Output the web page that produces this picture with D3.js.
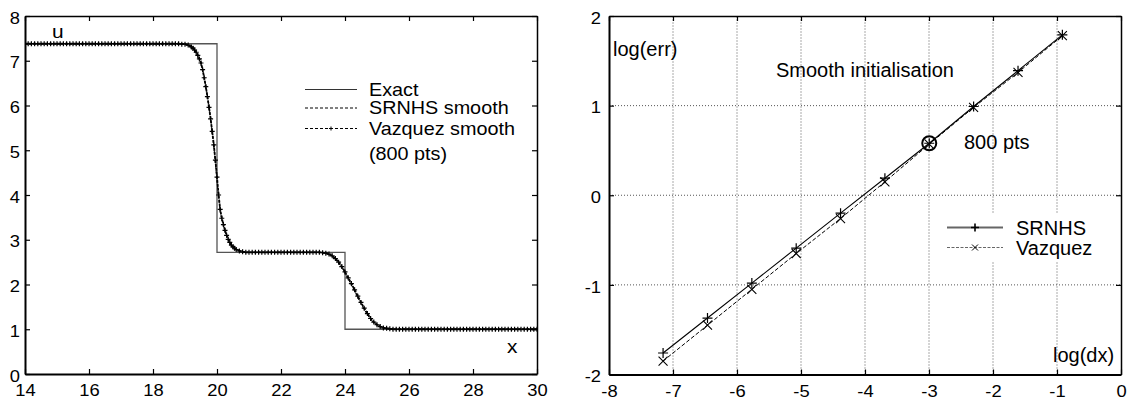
<!DOCTYPE html>
<html>
<head>
<meta charset="utf-8">
<script src="https://cdn.jsdelivr.net/npm/d3@7"></script>
<style>
  body { margin: 0; background: #fff; }
  svg { display: block; font-family: "Liberation Sans", Arial, sans-serif; }
</style>
</head>
<body>
<div id="chart"></div>
<script>
// ---- left panel: u(x) profiles ----
let exactX = [14, 20, 20, 24, 24, 30]
let exactU = [7.38, 7.38, 2.72, 2.72, 1.0, 1.0]

let srnhsX = [14, 18.8, 19.0, 19.2, 19.3, 19.4, 19.5, 19.6, 19.7, 19.8, 19.9, 20.0, 20.1, 20.2, 20.3,
  20.4, 20.5, 20.6, 20.8, 21.0, 23.2, 23.4, 23.6, 23.8, 24.0, 24.2, 24.4, 24.6, 24.8, 25.0, 25.2, 25.4, 25.6, 30]
let srnhsU = [7.38, 7.38, 7.37, 7.32, 7.26, 7.14, 6.97, 6.64, 6.22, 5.72, 5.10, 4.32, 3.62, 3.32, 3.08,
  2.92, 2.83, 2.78, 2.73, 2.72, 2.72, 2.70, 2.64, 2.49, 2.26, 1.99, 1.71, 1.44, 1.22, 1.09, 1.03, 1.01, 1.0, 1.0]

let vazquezX = [
  14.0, 14.1, 14.2, 14.3, 14.4, 14.5, 14.6, 14.7, 14.8, 14.9,
  15.0, 15.1, 15.2, 15.3, 15.4, 15.5, 15.6, 15.7, 15.8, 15.9,
  16.0, 16.1, 16.2, 16.3, 16.4, 16.5, 16.6, 16.7, 16.8, 16.9,
  17.0, 17.1, 17.2, 17.3, 17.4, 17.5, 17.6, 17.7, 17.8, 17.9,
  18.0, 18.1, 18.2, 18.3, 18.4, 18.5, 18.6, 18.7, 18.8, 18.9,
  19.0, 19.1, 19.2, 19.25, 19.3, 19.35, 19.4, 19.45, 19.5, 19.55,
  19.6, 19.65, 19.7, 19.75, 19.8, 19.85, 19.9, 19.95, 20.0, 20.05,
  20.1, 20.15, 20.2, 20.25, 20.3, 20.35, 20.4, 20.45, 20.5, 20.55,
  20.6, 20.7, 20.8, 20.9, 21.0, 21.1, 21.2, 21.3, 21.4, 21.5,
  21.6, 21.7, 21.8, 21.9, 22.0, 22.1, 22.2, 22.3, 22.4, 22.5,
  22.6, 22.7, 22.8, 22.9, 23.0, 23.1, 23.2, 23.3, 23.4, 23.5,
  23.6, 23.7, 23.8, 23.9, 24.0, 24.1, 24.2, 24.3, 24.4, 24.5,
  24.6, 24.7, 24.8, 24.9, 25.0, 25.1, 25.2, 25.3, 25.4, 25.5,
  25.6, 25.7, 25.8, 25.9, 26.0, 26.1, 26.2, 26.3, 26.4, 26.5,
  26.6, 26.7, 26.8, 26.9, 27.0, 27.1, 27.2, 27.3, 27.4, 27.5,
  27.6, 27.7, 27.8, 27.9, 28.0, 28.1, 28.2, 28.3, 28.4, 28.5,
  28.6, 28.7, 28.8, 28.9, 29.0, 29.1, 29.2, 29.3, 29.4, 29.5,
  29.6, 29.7, 29.8, 29.9, 30.0]
let vazquezU = [
  7.38, 7.38, 7.38, 7.38, 7.38, 7.38, 7.38, 7.38, 7.38, 7.38,
  7.38, 7.38, 7.38, 7.38, 7.38, 7.38, 7.38, 7.38, 7.38, 7.38,
  7.38, 7.38, 7.38, 7.38, 7.38, 7.38, 7.38, 7.38, 7.38, 7.38,
  7.38, 7.38, 7.38, 7.38, 7.38, 7.38, 7.38, 7.38, 7.38, 7.38,
  7.38, 7.38, 7.38, 7.38, 7.38, 7.38, 7.38, 7.38, 7.38, 7.37,
  7.37, 7.35, 7.31, 7.28, 7.24, 7.19, 7.12, 7.04, 6.95, 6.80,
  6.62, 6.42, 6.20, 5.96, 5.70, 5.42, 5.12, 4.78, 4.40, 4.00,
  3.68, 3.48, 3.34, 3.21, 3.10, 3.01, 2.94, 2.88, 2.84, 2.81,
  2.78, 2.75, 2.73, 2.72, 2.72, 2.72, 2.72, 2.72, 2.72, 2.72,
  2.72, 2.72, 2.72, 2.72, 2.72, 2.72, 2.72, 2.72, 2.72, 2.72,
  2.72, 2.72, 2.72, 2.72, 2.72, 2.72, 2.72, 2.71, 2.70, 2.68,
  2.64, 2.58, 2.50, 2.40, 2.28, 2.15, 2.02, 1.88, 1.74, 1.60,
  1.47, 1.35, 1.24, 1.16, 1.10, 1.06, 1.03, 1.02, 1.01, 1.00,
  1.00, 1.00, 1.00, 1.00, 1.00, 1.00, 1.00, 1.00, 1.00, 1.00,
  1.00, 1.00, 1.00, 1.00, 1.00, 1.00, 1.00, 1.00, 1.00, 1.00,
  1.00, 1.00, 1.00, 1.00, 1.00, 1.00, 1.00, 1.00, 1.00, 1.00,
  1.00, 1.00, 1.00, 1.00, 1.00, 1.00, 1.00, 1.00, 1.00, 1.00,
  1.00, 1.00, 1.00, 1.00, 1.00]

let leftXTicks = [14, 16, 18, 20, 22, 24, 26, 28, 30]
let leftYTicks = [0, 1, 2, 3, 4, 5, 6, 7, 8]
let leftLegend = ['Exact', 'SRNHS smooth', 'Vazquez smooth']

// ---- right panel: convergence ----
let logDx = [-7.155, -6.461, -5.768, -5.075, -4.382, -3.689, -2.996, -2.303, -1.609, -0.916]
let errSRNHS = [-1.76, -1.37, -0.98, -0.59, -0.20, 0.19, 0.58, 0.99, 1.39, 1.79]
let errVazquez = [-1.85, -1.45, -1.05, -0.65, -0.26, 0.15, 0.57, 0.98, 1.37, 1.78]
let markedPoint = [-2.996, 0.58]

let rightXTicks = [-8, -7, -6, -5, -4, -3, -2, -1, 0]
let rightYTicks = [-2, -1, 0, 1, 2]
let rightLegend = ['SRNHS', 'Vazquez']

let width = 1128
let height = 399

let svg = d3.select('#chart').append('svg')
  .attr('width', width)
  .attr('height', height)

svg.append('rect').attr('width', width).attr('height', height).attr('fill', '#fff')

let lx = d3.scaleLinear().domain([14, 30]).range([25, 537])
let ly = d3.scaleLinear().domain([0, 8]).range([374, 16])
let rx = d3.scaleLinear().domain([-8, 0]).range([609, 1121])
let ry = d3.scaleLinear().domain([-2, 2]).range([374.5, 16])

let plus = s => `M${-s},0H${s}M0,${-s}V${s}`
let cross = s => `M${-s},${-s}L${s},${s}M${-s},${s}L${s},${-s}`

// text with the slightly wide look of the original
let label = (g, x, y, str, size, sx, anchor) => g.append('text')
  .attr('transform', `translate(${x},${y}) scale(${sx},1)`)
  .attr('font-size', size)
  .attr('text-anchor', anchor || 'start')
  .attr('fill', '#000')
  .text(str)

let tickFmt = d => String(d)   // plain hyphen minus, like the original

let frame = (g, x, y, xt, yt, gap) => {
  let [x0, x1] = x.range(), [y0, y1] = y.range()
  let bottom = g.append('g').attr('transform', `translate(0,${y0})`)
    .call(d3.axisBottom(x).tickValues(xt).tickSize(-5).tickSizeOuter(0).tickPadding(10).tickFormat(tickFmt))
  let left = g.append('g').attr('transform', `translate(${x0},0)`)
    .call(d3.axisLeft(y).tickValues(yt).tickSize(-5).tickSizeOuter(0).tickPadding(gap).tickFormat(tickFmt))
  let top = g.append('g').attr('transform', `translate(0,${y1})`)
    .call(d3.axisTop(x).tickValues(xt).tickSize(-5).tickSizeOuter(0).tickFormat(''))
  let right = g.append('g').attr('transform', `translate(${x1},0)`)
    .call(d3.axisRight(y).tickValues(yt).tickSize(-5).tickSizeOuter(0).tickFormat(''))
  for (let a of [bottom, left, top, right]) {
    a.select('.domain').attr('stroke', '#000').attr('stroke-width', 2)
    a.selectAll('.tick line').attr('stroke', '#000').attr('stroke-width', 1.2)
    a.selectAll('text').attr('font-size', 17).attr('fill', '#000')
      .attr('font-family', '"Liberation Sans", Arial, sans-serif')
  }
  bottom.selectAll('text').attr('transform', 'scale(1.08,1)')
  left.selectAll('text').attr('transform', 'scale(1.08,1)')
    .attr('x', -gap / 1.08).attr('dy', '0.42em')
  top.select('.domain').attr('stroke-width', 1.5)
  right.select('.domain').attr('stroke-width', 1.5)
}

// ================= left panel =================
let L = svg.append('g')
svg.append('clipPath').attr('id', 'clipL').append('rect')
  .attr('x', 25).attr('y', 16).attr('width', 512).attr('height', 358)

let line = (xs, ys, sx, sy) => d3.line().x(i => sx(xs[i])).y(i => sy(ys[i]))(d3.range(xs.length))

let plotL = L.append('g').attr('clip-path', 'url(#clipL)')
plotL.append('path').attr('d', line(exactX, exactU, lx, ly))
  .attr('fill', 'none').attr('stroke', '#555').attr('stroke-width', 1.3)
plotL.append('path').attr('d', line(srnhsX, srnhsU, lx, ly))
  .attr('fill', 'none').attr('stroke', '#000').attr('stroke-width', 1).attr('stroke-dasharray', '3,2')
plotL.append('path').attr('d', line(vazquezX, vazquezU, lx, ly))
  .attr('fill', 'none').attr('stroke', '#000').attr('stroke-width', 1.8).attr('stroke-dasharray', '3,1')
plotL.selectAll('.vm').data(d3.range(vazquezX.length)).enter()
  .append('path')
  .attr('transform', i => `translate(${lx(vazquezX[i])},${ly(vazquezU[i])})`)
  .attr('d', plus(2.5))
  .attr('stroke', '#000').attr('stroke-width', 1.2)

frame(L, lx, ly, leftXTicks, leftYTicks, 5)

label(L, 52, 38, 'u', 19, 1.1)
label(L, 507, 353, 'x', 19, 1.1)

// left legend
let legY = [89.5, 108, 128.5]
let legL = L.append('g')
legL.append('line').attr('x1', 305).attr('x2', 357).attr('y1', legY[0]).attr('y2', legY[0])
  .attr('stroke', '#333').attr('stroke-width', 1.2)
legL.append('line').attr('x1', 305).attr('x2', 357).attr('y1', legY[1]).attr('y2', legY[1])
  .attr('stroke', '#000').attr('stroke-width', 1).attr('stroke-dasharray', '3,2')
legL.append('line').attr('x1', 305).attr('x2', 357).attr('y1', legY[2]).attr('y2', legY[2])
  .attr('stroke', '#000').attr('stroke-width', 1).attr('stroke-dasharray', '3,2')
legL.append('path').attr('transform', `translate(331,${legY[2]})`).attr('d', plus(2))
  .attr('stroke', '#000').attr('stroke-width', 1)
leftLegend.forEach((t, i) => label(legL, 369, legY[i] + 6, t, 18, 1.1))
label(legL, 369, 160, '(800 pts)', 18, 1.1)

// ================= right panel =================
let R = svg.append('g')

// dotted grid
R.append('g').selectAll('line').data(rightXTicks.slice(1, -1)).enter().append('line')
  .attr('x1', d => rx(d)).attr('x2', d => rx(d)).attr('y1', ry(-2)).attr('y2', ry(2))
  .attr('stroke', '#555').attr('stroke-width', 1).attr('stroke-dasharray', '1,2')
R.append('g').selectAll('line').data(rightYTicks.slice(1, -1)).enter().append('line')
  .attr('y1', d => ry(d)).attr('y2', d => ry(d)).attr('x1', rx(-8)).attr('x2', rx(0))
  .attr('stroke', '#555').attr('stroke-width', 1).attr('stroke-dasharray', '1,2')

R.append('path').attr('d', line(logDx, errSRNHS, rx, ry))
  .attr('fill', 'none').attr('stroke', '#000').attr('stroke-width', 1.1)
R.append('path').attr('d', line(logDx, errVazquez, rx, ry))
  .attr('fill', 'none').attr('stroke', '#000').attr('stroke-width', 1).attr('stroke-dasharray', '4,2')

R.selectAll('.sm').data(d3.range(logDx.length)).enter().append('path')
  .attr('transform', i => `translate(${rx(logDx[i])},${ry(errSRNHS[i])})`)
  .attr('d', plus(5)).attr('stroke', '#000').attr('stroke-width', 1.2)
R.selectAll('.xm').data(d3.range(logDx.length)).enter().append('path')
  .attr('transform', i => `translate(${rx(logDx[i])},${ry(errVazquez[i])})`)
  .attr('d', cross(4.5)).attr('stroke', '#000').attr('stroke-width', 1.1)

R.append('circle').attr('cx', rx(markedPoint[0])).attr('cy', ry(markedPoint[1])).attr('r', 7)
  .attr('fill', 'none').attr('stroke', '#000').attr('stroke-width', 2)

frame(R, rx, ry, rightXTicks, rightYTicks, 8)

label(R, 613, 56, 'log(err)', 20, 1)
label(R, 776, 77, 'Smooth initialisation', 20, 1)
label(R, 964, 149, '800 pts', 20, 1)
label(R, 1053, 362, 'log(dx)', 20, 1)

// right legend
let legR = R.append('g')
let rLegY = [227.5, 247.5]
legR.append('rect').attr('x', 944).attr('y', 214).attr('width', 150).attr('height', 48).attr('fill', '#fff')
legR.append('line').attr('x1', 947).attr('x2', 1003).attr('y1', rLegY[0]).attr('y2', rLegY[0])
  .attr('stroke', '#666').attr('stroke-width', 2)
legR.append('path').attr('transform', `translate(975,${rLegY[0]})`).attr('d', plus(4))
  .attr('stroke', '#000').attr('stroke-width', 1.6)
legR.append('line').attr('x1', 947).attr('x2', 1003).attr('y1', rLegY[1]).attr('y2', rLegY[1])
  .attr('stroke', '#666').attr('stroke-width', 1).attr('stroke-dasharray', '3,1.5')
legR.append('path').attr('transform', `translate(975,${rLegY[1]})`).attr('d', cross(3))
  .attr('stroke', '#000').attr('stroke-width', 1)
rightLegend.forEach((t, i) => label(legR, 1016, rLegY[i] + 7.5, t, 20, 1))
</script>
</body>
</html>
